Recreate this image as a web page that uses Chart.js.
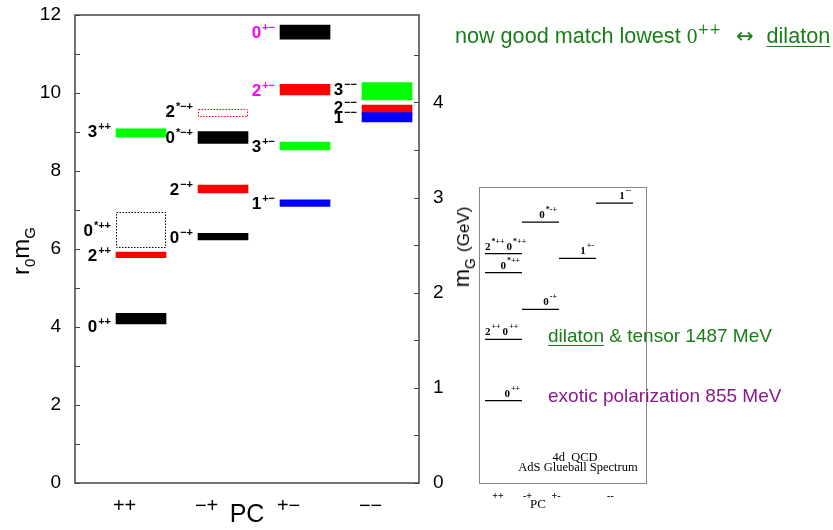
<!DOCTYPE html>
<html>
<head>
<meta charset="utf-8">
<title>Glueball spectrum</title>
<script src="https://cdn.jsdelivr.net/npm/chart.js@4.4.1/dist/chart.umd.min.js"></script>
<style>
  body { margin: 0; background: #fff; }
  #page { position: relative; width: 833px; height: 530px; overflow: hidden; font-family: "Liberation Sans", Arial, sans-serif; }
  canvas { position: absolute; }
  #mainChart { left: 0; top: 0; }
  #insetChart { left: 470px; top: 180px; }
  .axisTitle { position: absolute; white-space: nowrap; color: #000; line-height: 1; transform: translate(-50%, -50%) rotate(-90deg); }
  .sub { position: relative; top: 6px; font-size: 15px; }
  .note { position: absolute; white-space: nowrap; line-height: 1; }
  .green { color: #1a7d1a; }
  .purple { color: #8b1a8b; }
  u { text-decoration-thickness: 1px; text-underline-offset: 3px; }
</style>
</head>
<body>
<div id="page">
  <canvas id="mainChart" width="470" height="530"></canvas>
  <canvas id="insetChart" width="190" height="340"></canvas>

  <div class="axisTitle" style="left:21px; top:251px; font-size:24px;">r<span class="sub">0</span>m<span class="sub">G</span></div>
  <div class="axisTitle" style="left:462px; top:247px; font-size:22px;">m<span class="sub" style="font-size:14px;">G</span> <span style="font-size:17px;">(GeV)</span></div>

  <div class="note green" style="left:455px; top:25px; font-size:21.6px;">now good match lowest <span style="font-family:'Liberation Serif';">0</span><span style="font-family:'DejaVu Serif'; font-size:14px; position:relative; top:-9px;">++</span> <span style="font-family:'DejaVu Sans'; font-size:21px; margin:0 7px 0 9px;">&#8596;</span> <u>dilaton</u></div>
  <div class="note green" style="left:548px; top:326px; font-size:19px;"><u>dilaton</u> &amp; tensor 1487 MeV</div>
  <div class="note purple" style="left:548px; top:386px; font-size:19px;">exotic polarization 855 MeV</div>
</div>

<script>
// PC columns of the lattice spectrum
var pcColumns = ['++', '\u2212+', '+\u2212', '\u2212\u2212'];

// lattice glueball levels, r0*mG (lower and upper edge of each box)
var levelCol       = [1, 1, 1, 1, 2, 2, 2, 2, 3, 3, 3, 3, 4, 4, 4];
var levelJ         = [0, 2, 0, 3, 0, 2, 0, 2, 1, 3, 2, 0, 1, 2, 3];
var levelStar      = ['', '', '*', '', '', '', '*', '*', '', '', '', '', '', '', ''];
var levelLow       = [4.08, 5.78, 6.04, 8.87, 6.23, 7.44, 8.71, 9.38, 7.09, 8.54, 9.95, 11.38, 9.26, 9.46, 9.82];
var levelHigh      = [4.35, 5.92, 6.96, 9.08, 6.40, 7.64, 9.01, 9.58, 7.26, 8.74, 10.22, 11.74, 9.50, 9.69, 10.27];
var levelTentative = [false, false, true, false, false, false, false, true, false, false, false, false, false, false, false];

// axis ticks
var r0mTicks = [0, 2, 4, 6, 8, 10, 12];
var gevTicks = [0, 1, 2, 3, 4];
var r0GeV = 2.44; // r0 in GeV^-1, converts r0*mG to mG

// inset: AdS glueball spectrum, mG in GeV
var insetColumns = ['++', '-+', '+-', '--'];
var insetTickPos = [0.85, 1.65, 2.42, 3.89];
var insetCol   = [1, 1, 1, 1, 2, 2, 3, 4];
var insetGeV   = [0.865, 1.51, 2.21, 2.41, 1.825, 2.74, 2.36, 2.94];
var insetLabel = [
  [['0', '++']],
  [['2', '++'], ['0', '++']],
  [['0', '*++']],
  [['2', '*++'], ['0', '*++']],
  [['0', '-+']],
  [['0', '*-+']],
  [['1', '+-']],
  [['1', '--']]
];

var spinColor = ['#000000', '#0000ff', '#ff0000', '#00ff00'];
var labelNudge = { '0++': 7, '3++': -2, '2*\u2212+': -2, '3\u2212\u2212': -2, '2\u2212\u2212': -3 };
var labelShift = 0.2;

function isExotic(j, pc) {
  if (pc === '+\u2212') return j % 2 === 0;
  if (pc === '\u2212\u2212') return j === 0;
  if (pc === '\u2212+') return j % 2 === 1;
  return false;
}

function levelPoints(j, tentative) {
  var pts = [];
  for (var i = 0; i < levelCol.length; i++) {
    if (levelJ[i] !== j || levelTentative[i] !== tentative) continue;
    var pc = pcColumns[levelCol[i] - 1];
    pts.push({
      x: levelCol[i],
      y: [levelLow[i], levelHigh[i]],
      name: String(levelJ[i]),
      sup: levelStar[i] + pc,
      exotic: isExotic(levelJ[i], pc)
    });
  }
  return pts;
}

var datasets = [];
[0, 1, 2, 3].forEach(function(j) {
  datasets.push({ data: levelPoints(j, false), backgroundColor: spinColor[j], borderWidth: 0, barThickness: 50, grouped: false });
  var t = levelPoints(j, true);
  if (t.length) {
    datasets.push({ data: t, backgroundColor: 'rgba(0,0,0,0)', dotted: spinColor[j], borderWidth: 0, barThickness: 50, grouped: false });
  }
});

// frame plus short inward tick marks on both y axes
var frameTicks = {
  id: 'frameTicks',
  afterDraw: function(chart) {
    var ctx = chart.ctx, a = chart.chartArea;
    ctx.save();
    ctx.strokeStyle = '#444';
    ctx.lineWidth = 1.5;
    ctx.strokeRect(a.left, a.top, a.right - a.left, a.bottom - a.top);
    ctx.lineWidth = 1.2;
    ctx.beginPath();
    chart.scales.y.ticks.forEach(function(t) {
      var py = Math.round(chart.scales.y.getPixelForValue(t.value)) + 0.5;
      ctx.moveTo(a.left, py);
      ctx.lineTo(a.left + 5, py);
    });
    chart.scales.y2.ticks.forEach(function(t) {
      var py = Math.round(chart.scales.y2.getPixelForValue(t.value)) + 0.5;
      ctx.moveTo(a.right, py);
      ctx.lineTo(a.right - 5, py);
    });
    ctx.stroke();
    ctx.restore();
  }
};

// J^PC labels left of each box, dotted outline for tentative boxes
var levelLabels = {
  id: 'levelLabels',
  afterDatasetsDraw: function(chart) {
    var ctx = chart.ctx;
    ctx.save();
    chart.data.datasets.forEach(function(ds, di) {
      var meta = chart.getDatasetMeta(di);
      meta.data.forEach(function(bar, i) {
        var p = ds.data[i];
        var left = bar.x - bar.width / 2;
        var top = Math.min(bar.y, bar.base);
        var h = Math.abs(bar.base - bar.y);
        if (ds.dotted) {
          ctx.strokeStyle = ds.dotted;
          ctx.lineWidth = 1;
          ctx.setLineDash([1.5, 1.5]);
          ctx.strokeRect(Math.round(left) + 0.5, Math.round(top) + 0.5, Math.round(bar.width) - 1, Math.round(h) - 1);
          ctx.setLineDash([]);
        }
        var yc = top + h / 2 + (labelNudge[p.name + p.sup] || 0);
        ctx.font = 'bold 17px "Liberation Sans"';
        var w1 = ctx.measureText(p.name).width;
        ctx.font = 'bold 11px "Liberation Sans"';
        var w2 = ctx.measureText(p.sup).width;
        var x0 = left - 5 - w1 - w2 - 1;
        ctx.fillStyle = p.exotic ? '#ff00ff' : '#000';
        ctx.textAlign = 'left';
        ctx.textBaseline = 'alphabetic';
        ctx.font = 'bold 17px "Liberation Sans"';
        ctx.fillText(p.name, x0, yc + 6);
        ctx.font = 'bold 11px "Liberation Sans"';
        ctx.fillText(p.sup, x0 + w1 + 1, yc - 1);
      });
    });
    ctx.restore();
  }
};

function fitY(width) {
  return function(scale) {
    scale.width = width;
    scale.paddingTop = 0;
    scale.paddingBottom = 0;
  };
}

new Chart(document.getElementById('mainChart'), {
  type: 'bar',
  data: { datasets: datasets },
  options: {
    responsive: false,
    animation: false,
    layout: { padding: { top: 15 } },
    plugins: { legend: { display: false }, tooltip: { enabled: false } },
    scales: {
      x: {
        type: 'linear',
        min: 0.195,
        max: 4.39,
        offset: false,
        grid: { display: false, drawTicks: false },
        border: { display: false },
        afterBuildTicks: function(scale) {
          scale.ticks = pcColumns.map(function(c, i) { return { value: i + 1 - labelShift }; });
        },
        afterFit: function(scale) { scale.height = 47; },
        ticks: {
          padding: 11,
          autoSkip: false,
          maxRotation: 0,
          color: '#000',
          font: { family: 'Liberation Sans', size: 20 },
          callback: function(v, i) { return pcColumns[i]; }
        },
        title: { display: true, text: 'PC', color: '#000', font: { family: 'Liberation Sans', size: 25 }, padding: { top: 0, bottom: 0 } }
      },
      y: {
        type: 'linear',
        position: 'left',
        min: 0,
        max: 12,
        grid: { display: false, drawTicks: false },
        border: { display: false },
        afterFit: fitY(75),
        ticks: {
          stepSize: 1,
          autoSkip: false,
          padding: 14,
          color: '#000',
          font: { family: 'Liberation Sans', size: 19 },
          callback: function(v) { return r0mTicks.indexOf(v) >= 0 ? String(v) : ''; }
        }
      },
      y2: {
        type: 'linear',
        position: 'right',
        min: 0,
        max: 12 / r0GeV,
        grid: { display: false, drawTicks: false },
        border: { display: false },
        afterFit: fitY(470 - 419),
        ticks: {
          stepSize: 0.5,
          includeBounds: false,
          autoSkip: false,
          padding: 14,
          color: '#000',
          font: { family: 'Liberation Sans', size: 19 },
          callback: function(v) { return gevTicks.indexOf(v) >= 0 ? String(v) : ''; }
        }
      }
    }
  },
  plugins: [levelLabels, frameTicks]
});

// ---- inset ----
var insetDatasets = insetCol.map(function(c, i) {
  return {
    data: [{ x: c - 0.5, y: insetGeV[i] }, { x: c + 0.5, y: insetGeV[i] }],
    borderColor: '#000',
    borderWidth: 1.3,
    pointRadius: 0,
    fill: false
  };
});

var insetText = {
  id: 'insetText',
  afterDraw: function(chart) {
    var ctx = chart.ctx, a = chart.chartArea;
    var xs = chart.scales.x, ys = chart.scales.y;
    ctx.save();
    ctx.strokeStyle = '#888';
    ctx.lineWidth = 1;
    ctx.strokeRect(Math.round(a.left) + 0.5, Math.round(a.top) + 0.5, Math.round(a.right - a.left), Math.round(a.bottom - a.top));
    ctx.fillStyle = '#000';
    ctx.textBaseline = 'alphabetic';
    ctx.textAlign = 'left';
    insetLabel.forEach(function(parts, i) {
      var xl = xs.getPixelForValue(insetCol[i] - 0.5);
      var xr = xs.getPixelForValue(insetCol[i] + 0.5) - 2;
      var y = ys.getPixelForValue(insetGeV[i]) - 4;
      var widths = parts.map(function(p) {
        ctx.font = 'bold 11px "Liberation Serif"';
        var w = ctx.measureText(p[0]).width;
        ctx.font = 'bold 8px "Liberation Serif"';
        return w + ctx.measureText(p[1]).width + 1;
      });
      var total = widths.reduce(function(s, w) { return s + w; }, 0) + 2 * (parts.length - 1);
      // pairs start at the line's left end, single states end at its right end
      var x = parts.length > 1 ? xl : xr - total;
      parts.forEach(function(p, k) {
        ctx.font = 'bold 11px "Liberation Serif"';
        ctx.fillText(p[0], x, y);
        var w = ctx.measureText(p[0]).width;
        ctx.font = 'bold 8px "Liberation Serif"';
        ctx.fillText(p[1], x + w + 1, y - 6);
        x += widths[k] + 2;
      });
    });
    ctx.textAlign = 'center';
    ctx.font = '12.5px "Liberation Serif"';
    ctx.fillText('4d  QCD', 105, 281);
    ctx.fillText('AdS Glueball Spectrum', 108, 291);
    ctx.font = '13px "Liberation Serif"';
    ctx.fillText('PC', 68, 328);
    ctx.restore();
  }
};

new Chart(document.getElementById('insetChart'), {
  type: 'line',
  data: { datasets: insetDatasets },
  options: {
    responsive: false,
    animation: false,
    layout: { padding: { left: 9, top: 7, right: 14.5 } },
    plugins: { legend: { display: false }, tooltip: { enabled: false } },
    scales: {
      x: {
        type: 'linear',
        min: 0.338,
        max: 4.838,
        grid: { display: false, drawTicks: false },
        border: { display: false },
        afterBuildTicks: function(scale) {
          scale.ticks = insetTickPos.map(function(v) { return { value: v }; });
        },
        afterFit: function(scale) { scale.height = 37; },
        ticks: {
          padding: 7,
          autoSkip: false,
          maxRotation: 0,
          color: '#000',
          font: { family: 'Liberation Serif', size: 10, weight: 'bold' },
          callback: function(v, i) { return insetColumns[i]; }
        }
      },
      y: { type: 'linear', display: false, min: 0, max: 3.11 }
    }
  },
  plugins: [insetText]
});
</script>
</body>
</html>
